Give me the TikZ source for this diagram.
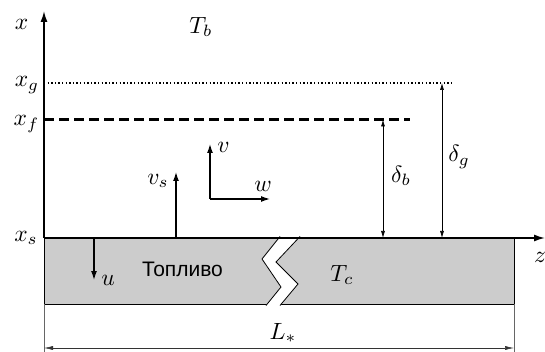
\documentclass[tikz,border=0pt]{standalone}
\usepackage{fontspec}
\newfontfamily\cyrfont{Liberation Sans}
\usetikzlibrary{arrows.meta}
\tikzset{
  axis/.style={line width=1.5pt,-{Latex[length=11pt,width=7pt]}},
  vec/.style={line width=1.3pt,-{Latex[length=9pt,width=6pt]}},
  dim/.style={line width=0.7pt,{Latex[length=7pt,width=4pt]}-{Latex[length=7pt,width=4pt]}},
  ldim/.style={line width=0.5pt,black!80,{Latex[length=9pt,width=4pt]}-{Latex[length=9pt,width=4pt]}},
  ext/.style={line width=0.5pt,black!60},
  lbl/.style={inner sep=0pt,scale=2.35},
  fuel/.style={fill=black!20,draw=black,line width=1.2pt},
}
\begin{document}
\begin{tikzpicture}[x=1pt,y=-1pt]
\useasboundingbox (0,0) rectangle (545,352);
% fuel slab
\node[fuel,minimum width=470pt,minimum height=66pt,inner sep=0pt,anchor=north west] (slab) at (44,238) {};
% break
\coordinate (l1) at (280,236.5);
\coordinate (l2) at (262,259);
\coordinate (l3) at (281,287);
\coordinate (l4) at (266,305.5);
\coordinate (r1) at (300,236.5);
\coordinate (r2) at (276,262);
\coordinate (r3) at (298,284);
\coordinate (r4) at (280,305.5);
\fill[white] (l1) -- (l2) -- (l3) -- (l4) -- (r4) -- (r3) -- (r2) -- (r1) -- cycle;
\draw[line width=0.8pt] (l1) -- (l2) -- (l3) -- (l4);
\draw[line width=0.8pt] (r1) -- (r2) -- (r3) -- (r4);
% axes
\coordinate (O) at (44,238);
\coordinate (xtip) at (44,11);
\coordinate (ztip) at (545,238);
\draw[axis] (O) -- (xtip);
\draw[axis] (O) -- (ztip);
% levels
\coordinate (g0) at (44,83);
\coordinate (g1) at (452,83);
\coordinate (f0) at (44,119.5);
\coordinate (f1) at (410,119.5);
\draw[line width=1.3pt,dash pattern=on 1.3pt off 2.3pt] (g0) -- (g1);
\draw[line width=2.3pt,dash pattern=on 10pt off 5pt] (f0) -- (f1);
% dimension arrows
\coordinate (db0) at (383,119.5);
\coordinate (db1) at (383,238);
\coordinate (dg0) at (442,83);
\coordinate (dg1) at (442,238);
\draw[dim] (db0) -- (db1);
\draw[dim] (dg0) -- (dg1);
% velocity arrows
\coordinate (vs0) at (176,238);
\coordinate (vs1) at (176,172);
\coordinate (c0) at (210,199);
\coordinate (v1) at (210,144);
\coordinate (w1) at (270,199);
\coordinate (u0) at (94,238);
\coordinate (u1) at (94,280);
\draw[vec] (vs0) -- (vs1);
\draw[vec] (c0) -- (v1);
\draw[vec] (c0) -- (w1);
\draw[vec] (u0) -- (u1);
% L dimension
\coordinate (e0) at (44,304);
\coordinate (e1) at (44,352);
\coordinate (e2) at (514,304);
\coordinate (e3) at (514,352);
\draw[ext] (e0) -- (e1);
\draw[ext] (e2) -- (e3);
\coordinate (la) at (44,348);
\coordinate (lb) at (514,348);
\draw[ldim] (la) -- (lb);
% labels
\node[lbl] (lx) at (21.5,24) {$x$};
\node[lbl] (lTb) at (201,27) {$T_b$};
\node[lbl] (lxg) at (27,85) {$x_g$};
\node[lbl] (lxf) at (26.5,124) {$x_f$};
\node[lbl] (lxs) at (26,238) {$x_s$};
\node[lbl] (lz) at (540,257.5) {$z$};
\node[lbl] (lvs) at (158,181) {$v_s$};
\node[lbl] (lv) at (223.5,147) {$v$};
\node[lbl] (lw) at (263,186) {$w$};
\node[lbl] (lu) at (108,280) {$u$};
\node[lbl] (ldb) at (401,176) {$\delta_b$};
\node[lbl] (ldg) at (459,157) {$\delta_g$};
\node[lbl] (lTc) at (342,275) {$T_c$};
\node[lbl] (lL) at (283,333) {$L_*$};
\node[inner sep=0pt,scale=2.1,font=\cyrfont] (fuelt) at (182.5,269) {Топливо};
\end{tikzpicture}
\end{document}
